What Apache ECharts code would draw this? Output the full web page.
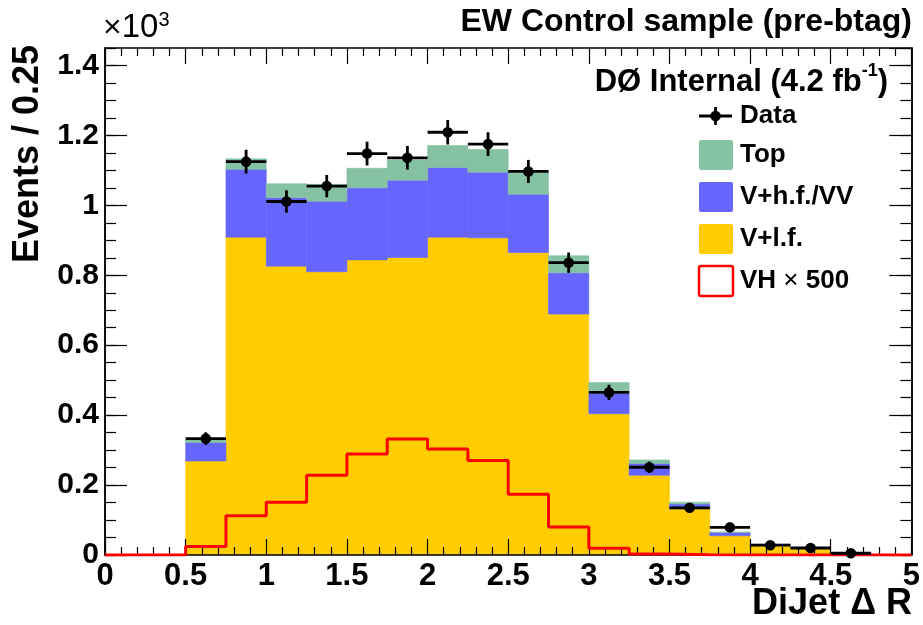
<!DOCTYPE html>
<html><head><meta charset="utf-8">
<script src="https://cdn.jsdelivr.net/npm/echarts@6/dist/echarts.min.js"></script>
<style>html,body{margin:0;padding:0;background:#fff}#c{width:923px;height:625px}</style>
</head><body><div id="c"></div>
<script>
// Bin edges of DiJet ΔR (width 0.25)
const binEdges = [0,0.25,0.5,0.75,1,1.25,1.5,1.75,2,2.25,2.5,2.75,3,3.25,3.5,3.75,4,4.25,4.5,4.75,5];
// Values in units of 10^3 events per bin
const vLightFlavor = [0,0,0.269,0.909,0.826,0.810,0.844,0.851,0.909,0.907,0.865,0.689,0.404,0.228,0.132,0.055,0.028,0.019,0.005,0.002];
const vHeavyFlavorVV = [0,0,0.053,0.194,0.196,0.202,0.206,0.221,0.199,0.188,0.167,0.118,0.058,0.034,0.014,0.009,0.002,0.002,0.001,0];
const vTop = [0,0,0.007,0.030,0.040,0.048,0.056,0.058,0.063,0.065,0.062,0.049,0.031,0.010,0.005,0.002,0.001,0.001,0.001,0];
const vData = [null,null,0.333,1.125,1.011,1.055,1.148,1.136,1.209,1.175,1.097,0.836,0.465,0.251,0.135,0.079,0.028,0.020,0.005,null];
const vDataErr = [0,0,0.018,0.034,0.032,0.032,0.034,0.034,0.035,0.034,0.033,0.029,0.022,0.016,0.012,0.009,0.005,0.004,0.002,0];
const vVHx500 = [0,0,0.024,0.112,0.151,0.228,0.289,0.332,0.303,0.270,0.174,0.080,0.019,0.003,0.001,0,0,0,0,0];
const xTicks = [0,0.5,1,1.5,2,2.5,3,3.5,4,4.5,5];
const yTicks = [0,0.2,0.4,0.6,0.8,1,1.2,1.4];

const FONT = '"Liberation Sans", Arial, Helvetica, sans-serif';
const C_LF = '#ffcc00', C_HF = '#6666ff', C_TOP = '#85c1a3', C_VH = '#ff0000';

// stacked layers
function layer(bases, vals) {
  const out = [];
  for (let i = 0; i < vals.length; i++) {
    out.push([binEdges[i], binEdges[i+1], bases[i], bases[i] + vals[i]]);
  }
  return out;
}
const zeros = vLightFlavor.map(() => 0);
const lfTop = vLightFlavor.slice();
const hfTop = vLightFlavor.map((v, i) => v + vHeavyFlavorVV[i]);
const dLF = layer(zeros, vLightFlavor);
const dHF = layer(lfTop, vHeavyFlavorVV);
const dTOP = layer(hfTop, vTop);

function rectRender(color) {
  return function (params, api) {
    const p0 = api.coord([api.value(0), api.value(2)]);
    const p1 = api.coord([api.value(1), api.value(3)]);
    const h = p0[1] - p1[1];
    if (h <= 0) return null;
    return { type: 'rect', shape: { x: p0[0], y: p1[1], width: p1[0] - p0[0], height: h },
      style: { fill: color, stroke: color, lineWidth: 0.6 } };
  };
}

const dataPts = [];
vData.forEach((v, i) => {
  if (v !== null) dataPts.push([(binEdges[i] + binEdges[i+1]) / 2, v, vDataErr[i], binEdges[i], binEdges[i+1]]);
});

const vhLine = vVHx500.map((v, i) => [binEdges[i], v]);
vhLine.push([binEdges[binEdges.length - 1], vVHx500[vVHx500.length - 1]]);

const axisLineStyle = { show: true, onZero: false, lineStyle: { color: '#000', width: 1.5 } };
function xAx(pos, labels) {
  return { type: 'value', min: 0, max: 5, interval: 0.5, position: pos, z: 10,
    axisLine: axisLineStyle,
    axisTick: { show: true, inside: true, length: 16, lineStyle: { color: '#000', width: 1.2 } },
    minorTick: { show: true, splitNumber: 5, length: 8, lineStyle: { color: '#000', width: 1.2 } },
    splitLine: { show: false }, minorSplitLine: { show: false },
    axisLabel: { show: labels, color: '#000', fontFamily: FONT, fontWeight: 'bold', fontSize: 31, margin: 6,
      formatter: v => String(v) } };
}
function yAx(pos, labels, interval, len) {
  return { type: 'value', min: 0, max: 1.45, interval: interval, position: pos, z: 10,
    axisLine: axisLineStyle,
    axisTick: { show: true, inside: true, length: len, lineStyle: { color: '#000', width: 1.2 } },
    splitLine: { show: false },
    axisLabel: { show: labels, color: '#000', fontFamily: FONT, fontWeight: 'bold', fontSize: 30, margin: 6,
      showMaxLabel: false, formatter: v => String(v) } };
}

const legendY = { data: 116, top: 155, hf: 197, lf: 239, vh: 281 };
const legTxt = (t, y) => ({ type: 'text', x: 740, y: y, z: 100,
  style: { text: t, fill: '#000', font: 'bold 26px ' + FONT, textAlign: 'left', textVerticalAlign: 'middle' } });
const legRect = (y, fill, stroke) => ({ type: 'rect', z: 100,
  shape: { x: 699, y: y - 15, width: 34, height: 30, r: 2 },
  style: stroke ? { fill: '#fff', stroke: stroke, lineWidth: 2.5 } : { fill: fill } });

const option = {
  animation: false,
  backgroundColor: '#fff',
  grid: { left: 105, right: 11, top: 48, bottom: 70, containLabel: false },
  xAxis: [xAx('bottom', true), xAx('top', false)],
  yAxis: [yAx('left', true, 0.2, 22), yAx('right', false, 0.2, 22),
          yAx('left', false, 0.05, 11), yAx('right', false, 0.05, 11)],
  series: [
    { type: 'custom', name: 'V+l.f.', renderItem: rectRender(C_LF), data: dLF, encode: { x: [0, 1], y: [2, 3] }, z: 2, clip: true },
    { type: 'custom', name: 'V+h.f./VV', renderItem: rectRender(C_HF), data: dHF, encode: { x: [0, 1], y: [2, 3] }, z: 2, clip: true },
    { type: 'custom', name: 'Top', renderItem: rectRender(C_TOP), data: dTOP, encode: { x: [0, 1], y: [2, 3] }, z: 2, clip: true },
    { type: 'line', name: 'VH × 500', data: vhLine, step: 'end', symbol: 'none', z: 20,
      lineStyle: { color: C_VH, width: 3 } },
    { type: 'custom', name: 'Data', z: 21, data: dataPts, encode: { x: 0, y: 1 },
      renderItem: function (params, api) {
        const c = api.coord([api.value(0), api.value(1)]);
        const l = api.coord([api.value(3), api.value(1)]);
        const r = api.coord([api.value(4), api.value(1)]);
        const up = api.coord([api.value(0), api.value(1) + api.value(2)]);
        const dn = api.coord([api.value(0), api.value(1) - api.value(2)]);
        const ls = { stroke: '#000', lineWidth: 2.8 };
        return { type: 'group', children: [
          { type: 'line', shape: { x1: l[0], y1: c[1], x2: r[0], y2: c[1] }, style: ls },
          { type: 'line', shape: { x1: c[0], y1: up[1], x2: c[0], y2: dn[1] }, style: ls },
          { type: 'circle', shape: { cx: c[0], cy: c[1], r: 5.3 }, style: { fill: '#000' } }
        ] };
      } }
  ],
  graphic: [
    { type: 'text', x: 912, y: 22, z: 100,
      style: { text: 'EW Control sample (pre-btag)', fill: '#000', font: 'bold 32px ' + FONT, textAlign: 'right', textVerticalAlign: 'middle' } },
    { type: 'text', x: 888, y: 80, z: 100,
      style: { text: '{a|DØ Internal (4.2 fb}{s|-1}{a|)}', textAlign: 'right', textVerticalAlign: 'middle',
        rich: { a: { fill: '#000', font: 'bold 31px ' + FONT, lineHeight: 36, verticalAlign: 'bottom' },
                s: { fill: '#000', font: 'bold 18px ' + FONT, lineHeight: 20, verticalAlign: 'top' } } } },
    { type: 'text', x: 103, y: 27, z: 100,
      style: { text: '{x|×}{a|10}{s|3}', textAlign: 'left', textVerticalAlign: 'middle',
        rich: { x: { fill: '#000', font: '32px ' + FONT, lineHeight: 34, verticalAlign: 'bottom' },
                a: { fill: '#000', font: '33px ' + FONT, lineHeight: 34, verticalAlign: 'bottom' },
                s: { fill: '#000', font: '20px ' + FONT, lineHeight: 18, verticalAlign: 'top' } } } },
    { type: 'text', x: 28, y: 154, rotation: Math.PI / 2, z: 100,
      style: { text: 'Events / 0.25', fill: '#000', font: 'bold 36px ' + FONT, textAlign: 'center', textVerticalAlign: 'middle' } },
    { type: 'text', x: 912, y: 604, z: 100,
      style: { text: 'DiJet Δ R', fill: '#000', font: 'bold 36px ' + FONT, textAlign: 'right', textVerticalAlign: 'middle' } },
    // legend
    { type: 'line', z: 100, shape: { x1: 699, y1: legendY.data, x2: 732, y2: legendY.data }, style: { stroke: '#000', lineWidth: 2.8 } },
    { type: 'line', z: 100, shape: { x1: 715.5, y1: legendY.data - 9, x2: 715.5, y2: legendY.data + 9 }, style: { stroke: '#000', lineWidth: 2.8 } },
    { type: 'circle', z: 100, shape: { cx: 715.5, cy: legendY.data, r: 5.3 }, style: { fill: '#000' } },
    legTxt('Data', legendY.data),
    legRect(legendY.top, C_TOP), legTxt('Top', legendY.top),
    legRect(legendY.hf, C_HF), legTxt('V+h.f./VV', legendY.hf),
    legRect(legendY.lf, C_LF), legTxt('V+l.f.', legendY.lf),
    legRect(legendY.vh, null, C_VH),
    { type: 'text', x: 740, y: legendY.vh, z: 100,
      style: { text: '{a|VH }{x|×}{a| 500}', textAlign: 'left', textVerticalAlign: 'middle',
        rich: { a: { fill: '#000', font: 'bold 26px ' + FONT }, x: { fill: '#000', font: '26px ' + FONT } } } }
  ]
};
const chart = echarts.init(document.getElementById('c'), null, { renderer: 'canvas' });
chart.setOption(option);
</script>
</body></html>
